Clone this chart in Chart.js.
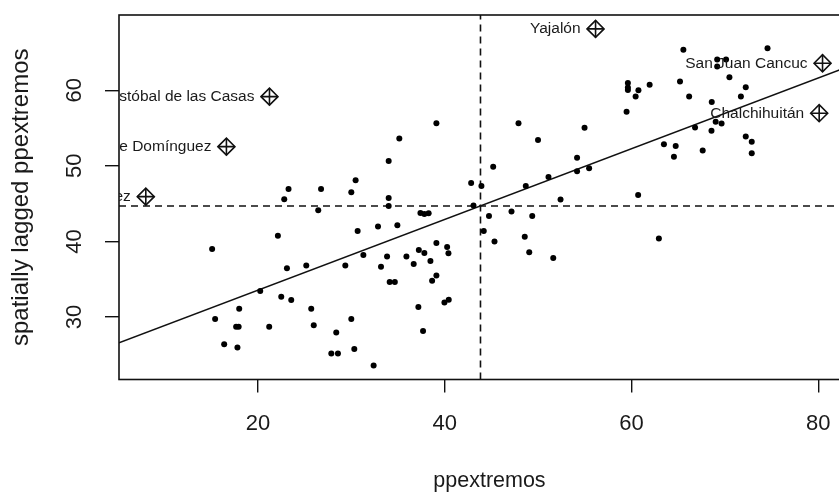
<!DOCTYPE html>
<html>
<head>
<meta charset="utf-8">
<script src="https://cdn.jsdelivr.net/npm/chart.js@4.4.0/dist/chart.umd.min.js"></script>
<style>
html,body{margin:0;padding:0;overflow:hidden;background:#fff;width:839px;height:494px}
#wrap{position:absolute;left:0;top:0;width:870px;height:494px}
</style>
</head>
<body>
<div id="wrap"><canvas id="c" width="870" height="494"></canvas></div>
<script>
// ---- data ----
const ppextremos = [15.10,15.42,16.39,17.67,17.94,17.81,18.00,20.25,21.21,22.14,22.50,23.11,23.28,22.82,23.57,25.18,25.71,25.98,26.46,26.76,
  27.86,28.57,28.39,29.36,30.00,30.00,30.32,30.46,30.68,31.29,32.39,32.86,33.18,33.83,34.00,34.00,34.00,34.11,34.66,34.93,
  35.14,35.90,36.68,37.18,37.23,37.40,37.82,37.82,38.28,37.68,38.47,38.65,39.11,39.11,39.11,39.97,40.43,40.26,40.40,42.83,
  43.08,43.93,44.18,44.74,45.19,45.33,47.15,47.90,48.57,48.68,49.05,49.37,49.99,51.11,51.62,52.40,54.17,54.17,55.46,54.97,
  59.47,59.61,59.61,59.61,60.74,60.44,60.71,61.94,62.93,63.47,64.73,64.54,65.19,65.55,66.17,66.80,67.62,68.59,68.56,69.01,
  69.64,69.17,69.17,70.12,70.48,71.71,72.23,72.23,72.87,72.87,74.56];
const laggedPpextremos = [39.01,29.75,26.40,28.73,28.73,25.98,31.11,33.45,28.73,40.77,32.70,36.46,46.94,45.58,32.26,36.83,31.11,28.92,44.13,46.94,
  25.19,25.19,27.96,36.83,46.51,29.75,25.78,48.10,41.39,38.21,23.60,41.98,36.67,38.02,50.65,45.75,44.70,34.64,34.64,42.14,
  53.62,38.02,37.02,31.34,38.88,43.77,38.48,43.64,43.73,28.16,37.42,34.81,35.50,39.80,55.63,31.93,32.30,39.27,38.44,47.74,
  44.76,47.34,41.39,43.37,49.89,40.00,43.97,55.63,40.63,47.34,38.58,43.37,53.43,48.53,37.82,45.56,51.08,49.29,49.68,55.04,
  57.17,60.97,60.37,60.04,60.00,59.18,46.15,60.73,40.40,52.86,52.63,51.22,61.14,65.36,59.18,55.08,52.04,58.45,54.64,55.85,
  55.61,64.05,63.15,64.07,61.72,59.18,60.41,53.89,53.20,51.67,65.56];
const influentialNames = ["San Cristóbal de las Casas","Comitán de Domínguez","Tuxtla Gutiérrez","Yajalón","San Juan Cancuc","Chalchihuitán"];
const influentialX = [21.24,16.63,8.00,56.15,80.45,80.09];
const influentialY = [59.15,52.54,45.93,68.11,63.57,56.96];
const xTicks = [20,40,60,80];
const yTicks = [30,40,50,60];
const meanX = 43.83;
const meanY = 44.70;
const slope = 0.468;
const xRange = [5.13,84.45];
const yRange = [21.75,69.95];

// ---- build chart ----
const FONT = "'Liberation Sans', Arial, Helvetica, sans-serif";
const pts = ppextremos.map((v,i)=>({x:v,y:laggedPpextremos[i]}));
const infl = influentialX.map((v,i)=>({x:v,y:influentialY[i]}));
const regLine = [xRange[0], xRange[1]].map(x=>({x:x,y:meanY+slope*(x-meanX)}));

const framePlugin = {
  id:'frame',
  afterDatasetsDraw(chart){
    const a = chart.chartArea, ctx = chart.ctx;
    ctx.save();
    ctx.strokeStyle = '#111';
    ctx.lineWidth = 1.6;
    ctx.strokeRect(a.left, a.top, a.right-a.left, a.bottom-a.top);
    ctx.restore();
  }
};
const labelPlugin = {
  id:'infLabels',
  afterDatasetsDraw(chart){
    const a = chart.chartArea, ctx = chart.ctx;
    const xs = chart.scales.x, ys = chart.scales.y;
    ctx.save();
    ctx.beginPath();
    ctx.rect(a.left, a.top, a.right-a.left, a.bottom-a.top);
    ctx.clip();
    ctx.font = "15.5px " + FONT;
    ctx.fillStyle = '#1a1a1a';
    ctx.textAlign = 'right';
    ctx.textBaseline = 'middle';
    influentialNames.forEach((n,i)=>{
      const px = xs.getPixelForValue(influentialX[i]);
      const py = ys.getPixelForValue(influentialY[i]);
      ctx.fillText(n, px-15, py);
    });
    ctx.restore();
  }
};

new Chart(document.getElementById('c'), {
  type:'scatter',
  data:{datasets:[
    {data:pts, pointRadius:3, pointBackgroundColor:'#000', pointBorderWidth:0, showLine:false},
    {type:'line', data:regLine, borderColor:'#111', borderWidth:1.5, pointRadius:0, fill:false},
    {type:'line', data:[{x:meanX,y:yRange[0]},{x:meanX,y:yRange[1]}], borderColor:'#111', borderWidth:1.6, borderDash:[7,5], pointRadius:0, fill:false},
    {type:'line', data:[{x:xRange[0],y:meanY},{x:xRange[1],y:meanY}], borderColor:'#111', borderWidth:1.6, borderDash:[7,5], pointRadius:0, fill:false},
    {data:infl, pointStyle:'rectRot', pointRadius:8.5, pointBorderColor:'#111', pointBorderWidth:1.6, pointBackgroundColor:'rgba(0,0,0,0)', showLine:false},
    {data:infl, pointStyle:'cross', pointRadius:8.5, pointBorderColor:'#111', pointBorderWidth:1.6, showLine:false}
  ]},
  options:{
    responsive:false,
    animation:false,
    events:[],
    devicePixelRatio:1,
    layout:{padding:{left:0,top:15,right:1,bottom:0}},
    plugins:{legend:{display:false},tooltip:{enabled:false}},
    scales:{
      x:{type:'linear', min:xRange[0], max:xRange[1],
        afterBuildTicks:s=>{s.ticks = xTicks.map(v=>({value:v}));},
        afterFit:s=>{s.height = 114.5; s.paddingLeft = 0; s.paddingRight = 0;},
        border:{display:false},
        grid:{display:true, drawOnChartArea:false, drawTicks:true, tickLength:13, color:'#111', lineWidth:1.4},
        ticks:{padding:18, color:'#1a1a1a', font:{family:FONT, size:22}, maxRotation:0, minRotation:0},
        title:{display:true, text:'ppextremos', color:'#1a1a1a', font:{family:FONT, size:21.5}, padding:{top:0,bottom:0}}
      },
      y:{type:'linear', min:yRange[0], max:yRange[1],
        afterBuildTicks:s=>{s.ticks = yTicks.map(v=>({value:v}));},
        afterFit:s=>{s.width = 119; s.paddingTop = 0; s.paddingBottom = 0;},
        border:{display:false},
        grid:{display:true, drawOnChartArea:false, drawTicks:true, tickLength:14, color:'#111', lineWidth:1.4},
        ticks:{padding:17.5, color:'#1a1a1a', font:{family:FONT, size:22}, minRotation:90, maxRotation:90, crossAlign:'center'},
        title:{display:true, text:'spatially lagged ppextremos', color:'#1a1a1a', font:{family:FONT, size:24}, padding:{top:7,bottom:0}}
      }
    }
  },
  plugins:[framePlugin, labelPlugin]
});
</script>
</body>
</html>
